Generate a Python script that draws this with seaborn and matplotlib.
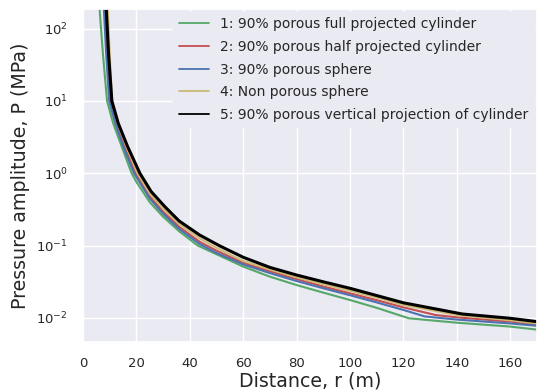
import numpy as np
import pandas as pd
import seaborn as sns
from matplotlib import pyplot as plt

# values (r in m, P in MPa)
labels = ['1: 90% porous full projected cylinder',
          '2: 90% porous half projected cylinder',
          '3: 90% porous sphere',
          '4: Non porous sphere',
          '5: 90% porous vertical projection of cylinder']

r_full_cyl = [5.4, 6.2, 7.5, 9.0, 11.3, 14.5, 18.2, 20, 25, 30, 36, 43, 50, 60, 70, 80, 90, 100, 110, 122, 140, 160, 170]
p_full_cyl = [1000, 186, 42.7, 10, 4.9, 2.34, 1.0, 0.76, 0.398, 0.251, 0.158, 0.1, 0.076, 0.0513, 0.0372, 0.0285, 0.0224, 0.0177, 0.0138, 0.0099, 0.0086, 0.0076, 0.0069]

r_half_cyl = [7.4, 8.2, 9.0, 10.2, 12.5, 15.6, 19.7, 25, 30, 36, 43.7, 50, 60, 70, 80, 90, 100, 110, 120, 132, 140, 160, 170]
p_half_cyl = [1000, 186, 42.7, 10, 4.9, 2.34, 1.0, 0.48, 0.295, 0.182, 0.113, 0.085, 0.058, 0.0442, 0.0345, 0.0272, 0.0219, 0.0176, 0.014, 0.011, 0.0102, 0.0089, 0.0081]

r_sphere = [7.0, 7.8, 8.7, 9.8, 12.1, 15.1, 19.1, 25, 30, 36, 43.7, 50, 60, 70, 80, 90, 100, 110, 120, 128, 140, 160, 170]
p_sphere = [1000, 186, 42.7, 10, 4.9, 2.34, 1.0, 0.447, 0.275, 0.17, 0.105, 0.079, 0.055, 0.0417, 0.0324, 0.0257, 0.0206, 0.0164, 0.0129, 0.0105, 0.0095, 0.0084, 0.0078]

r_solid = [8.6, 9.3, 10.0, 10.9, 13.0, 16.2, 20.4, 25, 30, 36, 43.7, 50, 60, 70, 80, 90, 100, 110, 120, 140, 160, 170]
p_solid = [1000, 186, 42.7, 10, 4.9, 2.34, 1.0, 0.525, 0.324, 0.2, 0.126, 0.093, 0.0612, 0.0468, 0.0364, 0.0292, 0.0238, 0.0191, 0.0151, 0.011, 0.0093, 0.0084]

r_vert_cyl = [8.0, 8.7, 9.6, 10.8, 13.2, 16.7, 21.3, 25.5, 30.6, 36, 43.7, 51, 60, 70, 80, 90, 100, 110, 120, 142, 160, 170]
p_vert_cyl = [1000, 186, 42.7, 10, 4.9, 2.34, 1.0, 0.56, 0.347, 0.219, 0.14, 0.1, 0.069, 0.05, 0.0392, 0.0316, 0.0257, 0.0204, 0.0162, 0.01135, 0.0099, 0.0089]

series = [(r_full_cyl, p_full_cyl), (r_half_cyl, p_half_cyl), (r_sphere, p_sphere),
          (r_solid, p_solid), (r_vert_cyl, p_vert_cyl)]

sns.set_theme(style='darkgrid')
deep = sns.color_palette('deep')
colors = [deep[2], deep[3], deep[0], '#ccb974', 'black']
widths = [1.5, 1.5, 1.5, 1.5, 2.2]

fig = plt.figure(figsize=(5.37, 3.9), dpi=100)
ax = fig.add_axes([0.1546, 0.123, 0.8454, 0.854])

for (r, p), lab, col, lw in zip(series, labels, colors, widths):
    df = pd.DataFrame({'r': r, 'P': p})
    sns.lineplot(data=df, x='r', y='P', ax=ax, color=col, linewidth=lw, label=lab, sort=False)

ax.set_yscale('log')
ax.set_xlim(0, 170)
ax.set_ylim(0.00465, 187)
ax.set_xticks(np.arange(0, 161, 20))
ax.set_yticks([1e-2, 1e-1, 1e0, 1e1, 1e2])
ax.minorticks_off()
ax.tick_params(labelsize=9.5, pad=5)
ax.set_xlabel('Distance, r (m)', fontsize=13.7, labelpad=1)
ax.set_ylabel('Pressure amplitude, P (MPa)', fontsize=13.7, labelpad=4)

leg = ax.legend(loc='upper right', bbox_to_anchor=(1.0, 1.0), fontsize=10,
                frameon=True, facecolor='#eaeaf2', edgecolor='#eaeaf2', framealpha=1,
                borderaxespad=0.2, labelspacing=0.62, handlelength=2.2)
for line in leg.get_lines():
    line.set_linewidth(1.3)

fig.savefig('out.png', dpi=100)
